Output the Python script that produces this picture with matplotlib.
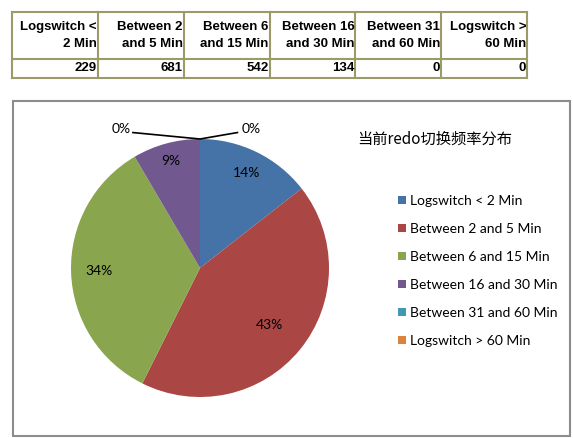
import numpy as np
import matplotlib
matplotlib.use("Agg")
import matplotlib.pyplot as plt
from matplotlib.patches import Rectangle

# Datos de la tabla y del grafico
categorias = ["Logswitch < 2 Min", "Between 2 and 5 Min", "Between 6 and 15 Min",
              "Between 16 and 30 Min", "Between 31 and 60 Min", "Logswitch > 60 Min"]
encabezados = [("Logswitch <", "2 Min"), ("Between 2", "and 5 Min"), ("Between 6", "and 15 Min"),
               ("Between 16", "and 30 Min"), ("Between 31", "and 60 Min"), ("Logswitch >", "60 Min")]
valores = [229, 681, 542, 134, 0, 0]
etiquetas_pct = ["14%", "43%", "34%", "9%", "0%", "0%"]
titulo = "当前redo切换频率分布"

colores = ["#4572A7", "#AA4643", "#89A54E", "#71588F", "#4198AF", "#DB843D"]

W, H = 573, 438
fig = plt.figure(figsize=(W / 100, H / 100), dpi=100)


def fbox(x0, y0, x1, y1):
    # pixeles (origen arriba-izquierda) -> fraccion de figura
    return [x0 / W, 1 - y1 / H, (x1 - x0) / W, (y1 - y0) / H]


# ---- Tabla superior ----
ax_t = fig.add_axes(fbox(12, 12, 527, 78))
ax_t.set_xlim(0, 6)
ax_t.set_ylim(66, 0)
ax_t.axis("off")
borde = "#9b9b6a"
for y in [0, 47, 66]:
    ax_t.plot([0, 6], [y, y], color=borde, lw=1.5, clip_on=False)
for x in range(7):
    ax_t.plot([x, x], [0, 66], color=borde, lw=1.5, clip_on=False)

fuente_tabla = dict(family=["Liberation Sans Narrow", "Liberation Sans"], fontweight="bold",
                    fontsize=9.5, ha="right", va="center", color="black")
for i, (l1, l2) in enumerate(encabezados):
    ax_t.text(i + 0.99, 15, l1, **fuente_tabla)
    ax_t.text(i + 0.99, 32, l2, **fuente_tabla)
    ax_t.text(i + 0.99, 56, str(valores[i]), **fuente_tabla)

# ---- Marco del grafico ----
fig.patches.append(Rectangle((13 / W, 1 - 436 / H), (570 - 13) / W, (436 - 101) / H,
                             transform=fig.transFigure, fill=False,
                             edgecolor="#8c8c8c", lw=1.5))

# ---- Pastel ----
cx, cy, r = 200, 268, 129
ax = fig.add_axes(fbox(cx - r, cy - r, cx + r, cy + r))
wedges, _ = ax.pie(valores, colors=colores, startangle=90, counterclock=False,
                   wedgeprops=dict(linewidth=0))
ax.set_xlim(-1, 1)
ax.set_ylim(-1, 1)
ax.set_aspect("equal")

fuente_lbl = dict(family=["Lato", "DejaVu Sans"], fontsize=10, color="black",
                  ha="center", va="center")
dist = [0.82, 0.70, 0.78, 0.86]
for w, txt, d in zip(wedges[:4], etiquetas_pct[:4], dist):
    ang = np.deg2rad((w.theta1 + w.theta2) / 2)
    ax.text(d * np.cos(ang), d * np.sin(ang), txt, **fuente_lbl)

# etiquetas 0% con lineas guia
ax.plot([-0.52, 0, 0.29], [1.05, 1.0, 1.05], color="black", lw=1.2, clip_on=False)
ax.text(-0.54, 1.08, etiquetas_pct[4], clip_on=False,
        **{**fuente_lbl, "ha": "right"})
ax.text(0.32, 1.08, etiquetas_pct[5], clip_on=False,
        **{**fuente_lbl, "ha": "left"})

# ---- Titulo y leyenda ----
fig.text(357 / W, 1 - 139 / H, titulo, family=["Noto Sans CJK SC", "DejaVu Sans"],
         fontsize=11, ha="left", va="center")

leg = fig.legend(wedges, categorias, loc="upper left",
                 bbox_to_anchor=(391 / W, 1 - 188 / H), frameon=False,
                 prop=dict(family="Lato", size=10), handlelength=0.55, handleheight=0.55,
                 handletextpad=0.3, labelspacing=1.15, borderpad=0)

plt.savefig("out.png", dpi=100)
